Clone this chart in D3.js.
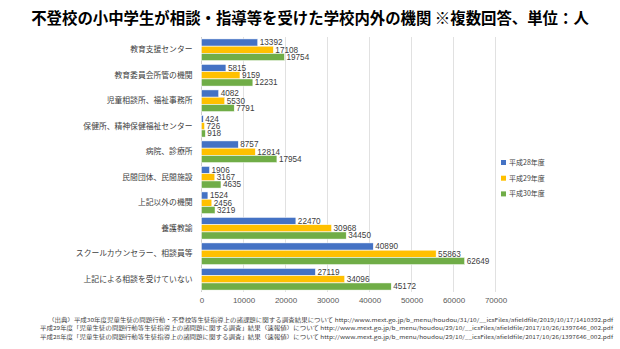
<!DOCTYPE html>
<html>
<head>
<meta charset="utf-8">
<script src="https://cdn.jsdelivr.net/npm/d3@7"></script>
<style>
  html, body { margin: 0; padding: 0; background: #fff; }
  svg { display: block; font-family: "Noto Sans CJK JP", "Noto Sans", sans-serif; }
</style>
</head>
<body>
<svg id="chart" width="620" height="349"></svg>
<script>
const title = "不登校の小中学生が相談・指導等を受けた学校内外の機関 ※複数回答、単位：人";
const categories = [
  "教育支援センター",
  "教育委員会所管の機関",
  "児童相談所、福祉事務所",
  "保健所、精神保健福祉センター",
  "病院、診療所",
  "民間団体、民間施設",
  "上記以外の機関",
  "養護教諭",
  "スクールカウンセラー、相談員等",
  "上記による相談を受けていない"
];
const seriesNames = ["平成28年度", "平成29年度", "平成30年度"];
const h28 = [13392, 5815, 4082, 424, 8757, 1906, 1524, 22470, 40890, 27119];
const h29 = [17108, 9159, 5530, 726, 12814, 3167, 2456, 30968, 55863, 34096];
const h30 = [19754, 12231, 7791, 918, 17954, 4635, 3219, 34450, 62649, 45172];
const xTicks = [0, 10000, 20000, 30000, 40000, 50000, 60000, 70000];
const sources = [
  "（出典）平成30年度児童生徒の問題行動・不登校等生徒指導上の諸課題に関する調査結果について  http://www.mext.go.jp/b_menu/houdou/31/10/__icsFiles/afieldfile/2019/10/17/1410392.pdf",
  "平成29年度「児童生徒の問題行動等生徒指導上の諸問題に関する調査」結果（速報値）について  http://www.mext.go.jp/b_menu/houdou/29/10/__icsFiles/afieldfile/2017/10/26/1397646_002.pdf",
  "平成28年度「児童生徒の問題行動等生徒指導上の諸問題に関する調査」結果（速報値）について  http://www.mext.go.jp/b_menu/houdou/29/10/__icsFiles/afieldfile/2017/10/26/1397646_002.pdf"
];

const colors = ["#4472C4", "#FFC000", "#70AD47"];
const series = [h28, h29, h30];

const svg = d3.select("#chart");

// Plot area
const plot = { left: 201.5, right: 495.5, top: 37, bottom: 292 };

const x = d3.scaleLinear().domain([0, 70000]).range([plot.left, plot.right]);
const y = d3.scaleBand().domain(categories).range([plot.top, plot.bottom]).paddingInner(0.14).paddingOuter(0.07);
const ySub = d3.scaleBand().domain(d3.range(series.length)).range([0, y.bandwidth()]).padding(0.02);

// Title
svg.append("text")
  .attr("x", 310).attr("y", 24)
  .attr("text-anchor", "middle")
  .attr("font-size", 15.4)
  .attr("font-weight", "bold")
  .attr("fill", "#000")
  .text(title);

// Vertical gridlines
svg.append("g")
  .selectAll("line")
  .data(xTicks)
  .join("line")
  .attr("x1", d => x(d)).attr("x2", d => x(d))
  .attr("y1", plot.top).attr("y2", plot.bottom)
  .attr("stroke", d => d === 0 ? "#bfbfbf" : "#d9d9d9")
  .attr("stroke-width", 0.8);

// X axis tick labels
const xAxis = d3.axisBottom(x).tickValues(xTicks).tickSize(0).tickPadding(0).tickFormat(d3.format("d"));
const gx = svg.append("g").attr("transform", `translate(0,${plot.bottom + 5})`).call(xAxis);
gx.select(".domain").remove();
gx.selectAll("text").attr("font-size", 8).attr("fill", "#595959")
  .attr("font-family", "'Liberation Sans', sans-serif");

// Category labels
const yAxis = d3.axisLeft(y).tickSize(0).tickPadding(0);
const gy = svg.append("g").attr("transform", `translate(${plot.left - 9},0)`).call(yAxis);
gy.select(".domain").remove();
gy.selectAll("text").attr("font-size", 7.8).attr("fill", "#404040")
  .attr("font-family", "'Noto Sans CJK JP', sans-serif");

// Bars and value labels
const groups = svg.append("g").selectAll("g")
  .data(categories)
  .join("g")
  .attr("transform", d => `translate(0,${y(d)})`);

series.forEach((vals, si) => {
  groups.append("rect")
    .attr("x", x(0))
    .attr("y", ySub(si))
    .attr("width", (d, i) => x(vals[i]) - x(0))
    .attr("height", ySub.bandwidth())
    .attr("fill", colors[si])
    .attr("stroke", "#fff")
    .attr("stroke-width", 0.5);
  groups.append("text")
    .attr("x", (d, i) => x(vals[i]) + 2)
    .attr("y", ySub(si) + ySub.bandwidth() / 2)
    .attr("dy", "0.35em")
    .attr("font-size", 8.2)
    .attr("fill", "#404040")
    .attr("font-family", "'Liberation Sans', sans-serif")
    .text((d, i) => vals[i]);
});

// Legend
const legend = svg.append("g").selectAll("g")
  .data(seriesNames)
  .join("g")
  .attr("transform", (d, i) => `translate(501,${162.5 + i * 15.7})`);
legend.append("rect")
  .attr("x", 0).attr("y", -2.5).attr("width", 5).attr("height", 5)
  .attr("fill", (d, i) => colors[i]);
legend.append("text")
  .attr("x", 8).attr("y", 0).attr("dy", "0.35em")
  .attr("font-size", 7).attr("fill", "#404040")
  .text(d => d);

// Source notes
svg.append("g").selectAll("text")
  .data(sources)
  .join("text")
  .attr("x", 613)
  .attr("y", (d, i) => 322 + i * 8.3)
  .attr("text-anchor", "end")
  .attr("font-size", 5.2)
  .attr("fill", "#404040")
  .attr("textLength", (d, i) => i === 0 ? 565 : 573)
  .attr("lengthAdjust", "spacingAndGlyphs")
  .text(d => d);
</script>
</body>
</html>
